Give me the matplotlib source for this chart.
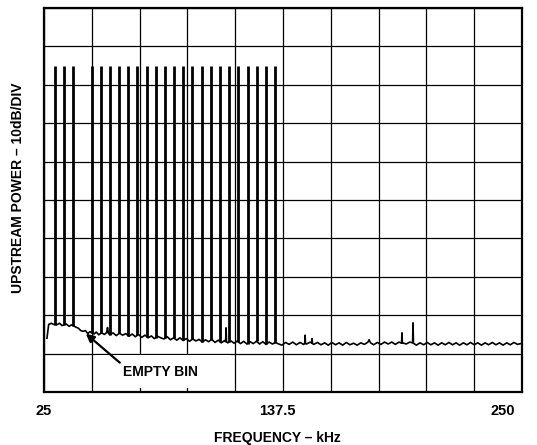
import matplotlib.pyplot as plt
import numpy as np
from matplotlib.patches import Rectangle

plt.rcParams['font.family'] = ['Liberation Sans', 'DejaVu Sans']
plt.rcParams['font.weight'] = 'bold'

# DMT upstream tones (kHz), bin at ~43.1 kHz left empty
tone_khz = [30.2, 34.5, 38.8, 47.4, 51.8, 56.1, 60.4, 64.7, 69.0, 73.3,
            77.6, 81.9, 86.3, 90.6, 94.9, 99.2, 103.5, 107.8, 112.1, 116.4,
            120.8, 125.1, 129.4, 133.7]
tone_db = 85.0

# noise floor trace (kHz, dB) incl. small spurs
floor_khz = [26.4, 27.2, 28.5, 29.5, 31.0, 32.3, 33.5, 35.5, 36.8, 38.0,
             40.0, 41.2, 42.3, 43.4, 44.5, 45.6, 46.6, 48.5, 49.6, 50.8,
             52.0, 53.5, 54.5, 54.9, 55.3, 56.0, 57.5, 59.0, 60.5, 62.0,
             63.5, 65.0, 66.5, 68.0, 69.5, 71.0, 72.5, 74.0, 75.5, 77.0,
             78.5, 80.0, 81.5, 83.0, 84.5, 86.0, 87.5, 89.0, 90.5, 92.0,
             93.5, 95.0, 96.5, 98.0, 99.5, 101.0, 102.5, 104.0, 105.5, 107.0,
             108.5, 110.0, 110.5, 110.7, 110.9, 111.5, 113.0, 114.5, 116.0, 117.5,
             119.0, 120.5, 122.0, 123.5, 125.0, 126.5, 128.0, 129.5, 131.0, 132.5,
             134.0, 135.5, 137.0, 138.7, 140.4, 142.1, 143.8, 145.5, 147.2, 147.7,
             147.9, 148.1, 148.6, 150.3, 151.0, 151.2, 151.4, 152.0, 153.7, 155.4,
             157.1, 158.8, 160.5, 162.2, 163.9, 165.6, 167.3, 169.0, 170.7, 172.4,
             174.1, 175.8, 177.5, 178.0, 178.7, 180.2, 181.9, 183.6, 185.3, 187.0,
             188.7, 190.4, 192.1, 193.3, 193.5, 193.7, 195.5, 197.2, 198.5, 198.7,
             198.9, 200.3, 202.0, 203.7, 205.4, 207.1, 208.8, 210.5, 212.2, 213.9,
             215.6, 217.3, 219.0, 220.7, 222.4, 224.1, 225.8, 227.5, 229.2, 230.9,
             232.6, 234.3, 236.0, 237.7, 239.4, 241.1, 242.8, 244.5, 246.2, 247.9,
             250.0]
floor_db = [14.0, 17.6, 17.9, 17.6, 17.5, 17.9, 17.3, 17.7, 17.1, 17.5,
            16.9, 16.6, 16.0, 15.8, 16.0, 15.2, 15.7, 15.1, 15.6, 14.9,
            15.4, 15.0, 15.5, 16.8, 15.3, 14.9, 15.4, 14.7, 15.3, 14.8,
            15.2, 14.5, 15.1, 14.4, 15.0, 14.2, 14.8, 14.1, 14.6, 13.9,
            14.5, 14.1, 13.8, 14.4, 13.6, 14.1, 13.5, 14.1, 13.4, 13.9,
            13.2, 13.8, 13.3, 13.7, 13.0, 13.6, 13.1, 13.7, 12.9, 13.5,
            12.8, 13.4, 13.1, 16.7, 13.1, 12.8, 13.3, 12.7, 13.3, 12.6,
            13.2, 12.5, 13.1, 12.6, 13.2, 12.5, 13.1, 12.4, 13.0, 12.5,
            12.9, 12.5, 12.2, 12.9, 12.4, 13.0, 12.3, 12.9, 12.4, 12.6,
            14.8, 12.6, 12.5, 13.0, 12.7, 13.9, 12.6, 12.4, 12.9, 12.3,
            12.8, 12.2, 12.9, 12.3, 12.8, 12.2, 12.9, 12.3, 12.7, 12.2,
            12.8, 12.4, 13.0, 13.6, 12.8, 12.3, 12.9, 12.4, 13.0, 12.5,
            13.0, 12.4, 13.0, 12.7, 15.4, 12.8, 12.5, 13.0, 12.8, 18.0,
            12.7, 12.2, 12.8, 12.3, 12.9, 12.3, 12.8, 12.2, 12.8, 12.3,
            12.9, 12.3, 12.8, 12.2, 12.8, 12.3, 12.9, 12.3, 12.8, 12.2,
            12.8, 12.3, 12.9, 12.3, 12.8, 12.2, 12.8, 12.3, 12.9, 12.4,
            12.7]

x_labels = ['25', '137.5', '250']


fig = plt.figure(figsize=(5.37, 4.45), dpi=100)
ax = fig.add_axes([44 / 537, 53 / 445, 478 / 537, 384 / 445])

ax.set_xlim(25, 250)
ax.set_ylim(0, 100)
ax.set_xticks(np.linspace(25, 250, 11))
ax.set_yticks(np.linspace(0, 100, 11))
ax.grid(True, color='black', linewidth=0.9, zorder=1)
ax.tick_params(length=0, labelleft=False, labelbottom=False)
for s in ax.spines.values():
    s.set_linewidth(1.6)
    s.set_zorder(5)

# white patch behind the label, like the original
ax.add_patch(Rectangle((0.107, 0.011), 0.285, 0.085, transform=ax.transAxes,
                       facecolor='white', edgecolor='none', zorder=2))

ax.plot(floor_khz, floor_db, color='black', linewidth=1.2, zorder=3)
base = np.interp(tone_khz, floor_khz, floor_db)
ax.vlines(tone_khz, base, tone_db, color='black', linewidth=2.0, zorder=3)

ax.annotate('EMPTY BIN', xy=(44.7, 15.2), xytext=(79.6, 5.2),
            ha='center', va='center', fontsize=10, fontweight='bold', zorder=4,
            arrowprops=dict(arrowstyle='-|>', color='black', lw=1.6,
                            mutation_scale=12, shrinkA=0, shrinkB=0,
                            relpos=(0.0, 1.0)))

for lab, xf, ha in zip(x_labels, [44 / 537, 277 / 537, 515 / 537], ['center', 'center', 'right']):
    fig.text(xf, 1 - 411 / 445, lab, ha=ha, va='center', fontsize=10.5, fontweight='bold')

fig.text(277 / 537, 1 - 438 / 445, 'FREQUENCY – kHz', ha='center', va='center',
         fontsize=10, fontweight='bold')
fig.text(18 / 537, 1 - 188 / 445, 'UPSTREAM POWER – 10dB/DIV', ha='center', va='center',
         rotation=90, fontsize=10, fontweight='bold')

fig.savefig('out.png', dpi=100, facecolor='w')
